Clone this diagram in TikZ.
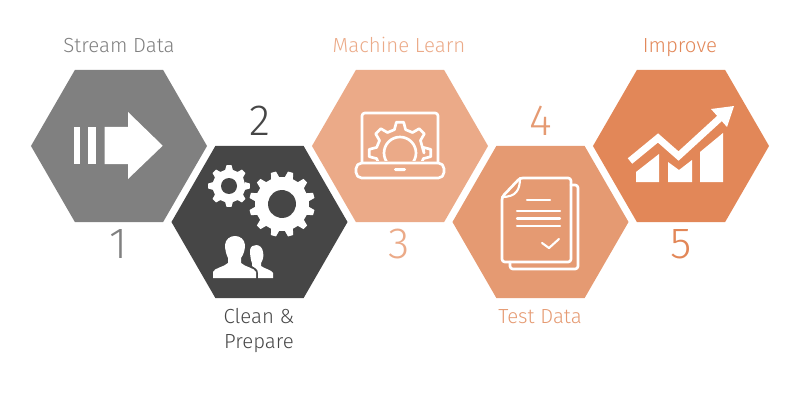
\documentclass[tikz,border=0pt]{standalone}
\usepackage{fontspec}
\usetikzlibrary{shapes.geometric}
\newfontfamily\StepFont{Fira Sans Light}
\definecolor{StepGrey}{HTML}{808080}
\definecolor{StepDark}{HTML}{464646}
\definecolor{StepPeach}{HTML}{EBAA88}
\definecolor{StepSalmon}{HTML}{E59A72}
\definecolor{StepOrange}{HTML}{E28758}
\newcommand{\GearPath}[3]{% teeth, outer radius, root radius
    (0:#3) \foreach \i in {1,...,#1} {
        -- ({(\i-1)*360/#1-0.30*360/#1}:#3)
        -- ({(\i-1)*360/#1-0.15*360/#1}:#2)
        -- ({(\i-1)*360/#1+0.15*360/#1}:#2)
        -- ({(\i-1)*360/#1+0.30*360/#1}:#3)
    } -- cycle
}
\tikzset{
    stream/diagram/.style={
        x=0.025cm, y=-0.025cm,
        line cap=round,
        line join=round,
        every node/.style={inner sep=0pt, outer sep=0pt}
    },
    stream/hexagon/.style={
        regular polygon, regular polygon sides=6,
        minimum size=4.4cm,
        fill=#1, draw=none
    },
    stream/title/.style={text=#1, anchor=base, font=\StepFont\fontsize{14.5}{17.7}\selectfont, align=center},
    stream/number/.style={text=#1, anchor=base, font=\StepFont\fontsize{31}{31}\selectfont},
    stream/icon/.style={fill=white, draw=none},
    stream/outline/.style={draw=white, line width=1.9pt, fill=none},
    stream/thin/.style={draw=white, line width=1.5pt, fill=none}
}
\begin{document}
\begin{tikzpicture}[stream/diagram]
    \useasboundingbox (0,0) rectangle (800,400);

    \node[stream/hexagon=StepGrey] (hexstream) at (119,146) {};
    \node[stream/hexagon=StepDark] (hexclean) at (259.5,222) {};
    \node[stream/hexagon=StepPeach] (hexlearn) at (400,146) {};
    \node[stream/hexagon=StepSalmon] (hextest) at (540.5,222) {};
    \node[stream/hexagon=StepOrange] (heximprove) at (681,146) {};

    \node[stream/title=StepGrey] (titlestream) at (119,53) {Stream Data};
    \node[stream/title=StepDark] (titleclean) at (259,348) {Clean \&\\Prepare};
    \node[stream/title=StepPeach] (titlelearn) at (399,53) {Machine Learn};
    \node[stream/title=StepSalmon] (titletest) at (540,323) {Test Data};
    \node[stream/title=StepOrange] (titleimprove) at (680,53) {Improve};

    \node[stream/number=StepGrey] (numone) at (118,258) {1};
    \node[stream/number=StepDark] (numtwo) at (260,136) {2};
    \node[stream/number=StepPeach] (numthree) at (399,258) {3};
    \node[stream/number=StepSalmon] (numfour) at (541,136) {4};
    \node[stream/number=StepOrange] (numfive) at (681,258) {5};

    \fill[stream/icon] (74.3,127) rectangle (80.3,164);
    \fill[stream/icon] (88.3,127) rectangle (96,164);
    \fill[stream/icon] (104.7,127) -- (128,127) -- (128,112) -- (162.7,145.7)
        -- (128,179) -- (128,164) -- (104.7,164) -- cycle;

    \begin{scope}[shift={(229,186)}]
        \fill[stream/icon] \GearPath{8}{21}{16.5};
        \fill[StepDark] (0,0) circle (8);
    \end{scope}
    \begin{scope}[shift={(282,204)}, rotate=15]
        \fill[stream/icon] \GearPath{12}{33}{27};
        \fill[StepDark] (0,0) circle (14);
    \end{scope}
    \fill[stream/icon] (256,278) -- (256,272) .. controls (255,268) and (245,267) .. (241,263)
        -- (241,258) .. controls (244,254) and (245,249) .. (245,245)
        .. controls (244,233) and (226,233) .. (225,245)
        .. controls (225,249) and (226,254) .. (228,258)
        -- (228,263) .. controls (224,267) and (214,268) .. (213,272) -- (213,278) -- cycle;
    \fill[stream/icon] (273,278) -- (273,273) .. controls (272,270) and (265,269) .. (261,266)
        -- (261,263) .. controls (263,260) and (264,256) .. (263,252)
        .. controls (262,243) and (251,243) .. (250,250)
        .. controls (250,256) and (251,261) .. (252,263)
        -- (252,266) .. controls (255,268) and (258,269) .. (258,273) -- (258,278) -- cycle;

    \begin{scope}
        \clip (360,110) rectangle (440,160.5);
        \draw[stream/outline, shift={(400,153)}] \GearPath{8}{31}{24};
        \draw[stream/outline] (400,153) circle (16);
    \end{scope}
    \draw[stream/outline, rounded corners=2] (362,163) -- (362,113) -- (438,113) -- (438,163);
    \draw[stream/outline, rounded corners=4] (356,163) -- (444,163) -- (444,178) -- (356,178) -- cycle;
    \fill[stream/icon, rounded corners=1] (394,168) rectangle (406,171);

    \draw[stream/outline, rounded corners=2] (520,178) -- (571,178) -- (571,262) -- (502,262)
        -- (502,197) -- cycle;
    \draw[stream/thin] (520,178) .. controls (520,190) and (516,197) .. (502,197);
    \draw[stream/outline, rounded corners=2] (571,185) -- (578,185) -- (578,269) -- (510,269) -- (510,262);
    \draw[stream/thin] (527,200) -- (550,200);
    \draw[stream/thin] (517,211) -- (560,211);
    \draw[stream/thin] (517,218.5) -- (560,218.5);
    \draw[stream/thin] (517,226) -- (560,226);
    \draw[stream/thin] (542,243) -- (549,248) -- (559,239);

    \fill[stream/icon] (636,182) -- (636,172) -- (659,154) -- (659,182) -- cycle;
    \fill[stream/icon] (668,182) -- (668,162) -- (679,170) -- (692,160) -- (692,182) -- cycle;
    \fill[stream/icon] (700,182) -- (700,152) -- (723,133) -- (723,182) -- cycle;
    \draw[draw=white, line width=5pt, line cap=butt, line join=miter] (630,161) -- (658,138) -- (678.5,156) -- (720,118);
    \fill[stream/icon] (734,106) -- (711,109) -- (727,127) -- cycle;
\end{tikzpicture}
\end{document}
